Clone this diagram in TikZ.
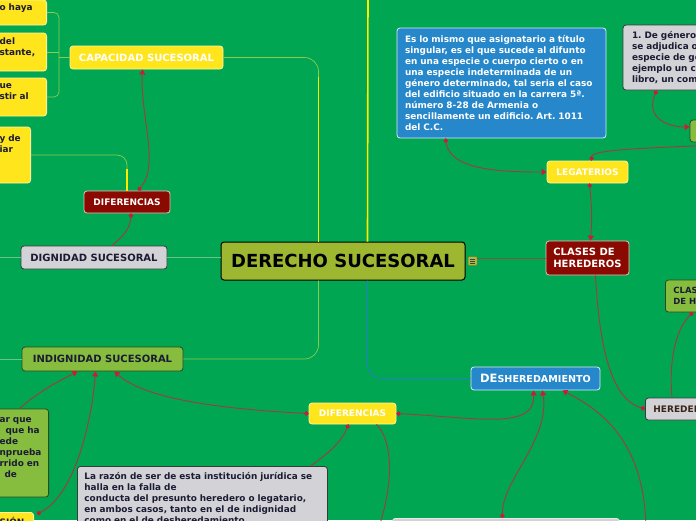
\documentclass[tikz,border=0pt]{standalone}
\usepackage{fontspec}
\setmainfont{DejaVu Sans}
\usetikzlibrary{arrows.meta,positioning,calc}
\definecolor{BgG}{HTML}{00A651}
\definecolor{Yel}{HTML}{FFE51C}
\definecolor{YelB}{HTML}{FFF4A0}
\definecolor{DRed}{HTML}{8A0A02}
\definecolor{DRedB}{HTML}{E6C4BE}
\definecolor{GrayF}{HTML}{D3D3D7}
\definecolor{GrayB}{HTML}{3A3A3A}
\definecolor{GrayL}{HTML}{E8E8EA}
\definecolor{LGrn}{HTML}{86BD3F}
\definecolor{LGrnB}{HTML}{2F4A1E}
\definecolor{BlueF}{HTML}{2687CB}
\definecolor{BlueB}{HTML}{D8ECF8}
\definecolor{Olive}{HTML}{9DB731}
\definecolor{Conn}{HTML}{A33B3C}
\definecolor{Dot}{HTML}{CC1B3A}
\definecolor{TreeL}{HTML}{8CCB4E}
\definecolor{TreeP}{HTML}{6CC38A}
\definecolor{TreeY}{HTML}{FFEB00}
\definecolor{TreeB}{HTML}{2680C8}
\definecolor{Brn}{HTML}{7A5838}
\definecolor{Txt}{HTML}{1B1B33}
\definecolor{HerT}{HTML}{3A2418}
\newcommand{\fsz}[2]{\fontsize{#1}{#2}\selectfont}
\frenchspacing

\begin{document}
\begin{tikzpicture}[x=1pt,y=-1pt,
    box/.style={rounded corners=3pt,line width=0.8pt,inner sep=0pt,align=center,
      font=\bfseries\fsz{10}{12}},
    titlebox/.style={box,fill=Olive,draw=black,line width=1pt,text=black,
      font=\bfseries\fsz{18}{22}},
    yel/.style={box,fill=Yel,draw=YelB,text=white},
    yeld/.style={box,fill=Yel,draw=YelB,text=Txt,align=left,font=\bfseries\fsz{8.9}{11}},
    redbox/.style={box,fill=DRed,draw=DRedB,text=white},
    graybox/.style={box,fill=GrayF,draw=GrayB,text=Txt},
    grnbox/.style={box,fill=LGrn,draw=LGrnB,text=Txt},
    bluebox/.style={box,fill=BlueF,draw=BlueB,text=white},
    noteic/.style={draw=Olive!70!black,fill=Olive!90!white,minimum size=9pt,inner sep=0pt,
      rounded corners=1pt,line width=0.5pt},
    treeL/.style={draw=TreeL,line width=0.7pt},
    treeP/.style={draw=TreeP,line width=0.7pt},
    treeY/.style={draw=TreeY,line width=1.6pt},
    treeB/.style={draw=TreeB,line width=0.8pt},
    treeBr/.style={draw=Brn,line width=0.9pt},
    conn/.style={draw=Conn,line width=0.9pt},
    dotarr/.style={conn,arrows={Circle[length=4.5pt,color=Dot]-Triangle[length=5pt,width=6pt,color=Dot]}},
    dotonly/.style={conn,arrows={Circle[length=4.5pt,color=Dot]-}},
    arronly/.style={conn,arrows={-Triangle[length=5pt,width=6pt,color=Dot]}}]
  \fill[BgG] (0,0) rectangle (696,520);
  \useasboundingbox (0,0) rectangle (696,520);
  \clip (0,0) rectangle (696,520);

  % central topic and main branches
  \node[titlebox,minimum width=244pt,minimum height=38pt] (title) at (343,261) {DERECHO SUCESORAL};
  \node[noteic] (note) at (472.5,261) {};
  \foreach \dy in {-2,0,2}
    \draw[black!75,line width=0.6pt] ($(note.center)+(-2.5,\dy)$) -- ++(5,0);
  \node[yel,minimum width=153pt,minimum height=23pt] (capac) at (146.5,57.5) {CAPACIDAD SUCESORAL};
  \node[redbox,minimum width=86pt,minimum height=22pt,font=\bfseries\fsz{9}{11}] (difA) at (127,202) {DIFERENCIAS};
  \node[graybox,minimum width=146pt,minimum height=23pt] (dign) at (94,257.5) {DIGNIDAD SUCESORAL};
  \node[grnbox,minimum width=161pt,minimum height=24pt] (indign) at (102.5,359) {INDIGNIDAD SUCESORAL};
  \node[yel,minimum width=87pt,minimum height=21pt,font=\bfseries\fsz{9}{11}] (difB) at (352.5,413.5) {DIFERENCIAS};
  \node[bluebox,minimum width=129pt,minimum height=23pt] (desher) at (535.5,378.5)
    {{\fsz{11.5}{12}DE}{\fsz{9.6}{12}SHEREDAMIENTO}};
  \node[redbox,minimum width=83pt,minimum height=34pt,align=left] (clases) at (587.5,258) {CLASES DE\\HEREDEROS};
  \node[yel,minimum width=81pt,minimum height=22pt,font=\bfseries\fsz{9}{11}] (legat) at (587.5,172) {LEGATERIOS};

  % right side
  \node[bluebox,text width=193pt,inner xsep=8pt,minimum height=110pt,align=left,
    font=\bfseries\fsz{8.9}{11}] (legdef) at (501.5,83)
    {Es lo mismo que asignatario a título\\singular, es el que sucede al difunto\\
     en una especie o cuerpo cierto o en\\una especie indeterminada de un\\
     género determinado, tal seria el caso\\del edificio situado en la carrera 5ª.\\
     número 8-28 de Armenia o\\sencillamente un edificio. Art. 1011\\del C.C.};
  \node[graybox,text width=141pt,inner xsep=9pt,minimum height=65pt,align=left,
    font=\bfseries\fsz{8.9}{11}] (gTR) at (702.5,57.5)
    {1. De género,\\se adjudica o\\especie de gé\\ejemplo un c\\libro, un com};
  \node[grnbox,minimum width=70pt,minimum height=22pt] (grTR) at (725,131) {};
  \node[grnbox,anchor=west,text width=80pt,inner xsep=8pt,minimum height=32pt,align=left,
    font=\bfseries\fsz{8.5}{10.7}] (clasH) at (665,296) {CLAS\\DE H};
  \node[graybox,anchor=west,text width=100pt,inner xsep=8pt,minimum height=22pt,align=left,
    text=HerT,font=\bfseries\fsz{9}{11}] (heredG) at (645,409) {HEREDER};

  % left side
  \node[yeld,anchor=east,text width=39pt,inner xsep=8pt,minimum height=25pt] (cap1) at (47,12.5) {o haya\\\mbox{}};
  \node[yeld,anchor=east,text width=39pt,inner xsep=8pt,minimum height=38pt] (cap2) at (47,52) {del\\stante,\\\mbox{}};
  \node[yeld,anchor=east,text width=39pt,inner xsep=8pt,minimum height=38pt] (cap3) at (47,97) {ue\\stir al\\\mbox{}};
  \node[yeld,anchor=east,text width=25pt,inner xsep=6pt,minimum height=56pt] (dif4) at (31,155) {y de\\iar\\\mbox{}\\\mbox{}};
  \node[grnbox,anchor=east,text width=44pt,inner xsep=5pt,minimum height=88pt,align=left,
    font=\bfseries\fsz{8.9}{11}] (lgreen) at (49,453)
    {ar que\\\hspace*{6pt}que ha\\ede\\nprueba\\rrido en\\\hspace*{5pt}de\\\mbox{}};
  \node[yeld,anchor=north east,text width=28pt,inner xsep=6pt,inner ysep=5pt] (blY) at (34,512) {SIÓN};
  \node[graybox,anchor=north west,text width=236pt,inner xsep=7pt,inner ysep=6pt,align=left,
    font=\bfseries\fsz{8.9}{11}] (razon) at (77,466)
    {La razón de ser de esta institución jurídica se\\halla en la falla de\\
     conducta del presunto heredero o legatario,\\en ambos casos, tanto en el de indignidad\\
     como en el de desheredamiento};
  \node[graybox,draw=GrayL,anchor=north west,minimum width=227pt,minimum height=30pt] (bcG) at (392,518) {};

  % tree lines
  \coordinate (tA) at ($(title.north west)+(98,0)$);
  \coordinate (tB) at ($(title.north west)+(147,0)$);
  \coordinate (tC) at ($(title.south west)+(147,0)$);
  \coordinate (tD) at ($(title.south west)+(98,0)$);
  \coordinate (topout) at (368,-10);
  \coordinate (capfork) at (59,57.5);
  \coordinate (dignout) at (-5,257.5);
  \coordinate (indout) at (-5,359);
  \draw[treeL,rounded corners=14pt] (capac.east) -| (tA);
  \draw[treeY] (tA) -- ++(0,-165);
  \draw[treeY] (tB) -- (topout);
  \draw[treeB,rounded corners=14pt] (tC) |- (desher.west);
  \draw[treeB,line width=1.4pt] (tC) -- ++(0,80);
  \draw[treeL,rounded corners=14pt] (tD) |- (indign.east);
  \draw[treeL,line width=1.3pt] (tD) -- ++(0,60);
  \draw[treeP] (dign.east) -- (dign.east -| title.west);
  \draw[treeP] (dign.west) -- (dignout);
  \draw[treeP] (indign.west) -- (indout);
  \draw[treeL,rounded corners=5pt] (cap1.east) -| (capfork) |- (cap3.east);
  \draw[treeL] (cap2.east) -- (cap2.east -| capfork);
  \draw[treeL] (capfork) -- (capac.west);
  \draw[treeL,rounded corners=10pt] (difA.north) |- (dif4.east);
  \draw[treeY] (difA.north) -- ++(0,-22);
  \draw[treeBr] (clases.west) -- (clases.west -| note.east);

  % relation connectors
  \coordinate (difout) at (378,530);
  \coordinate (brout) at (646,530);
  \coordinate (legout) at (720,145);
  \draw[dotarr] ($(difA.north)+(11,0)$) .. controls (160,165) and (140,115) .. ($(capac.south)+(-4,0)$);
  \draw[dotonly] ($(difA.south)+(4,0)$) .. controls (130,232) and (118,240) .. ($(dign.north)+(18,0)$);
  \draw[arronly] ($(lgreen.north)+(-2,0)$) .. controls (40,390) and (65,378) .. ($(indign.south)+(-25,0)$);
  \draw[dotarr] ($(blY.north east)+(3,2)$) .. controls (75,495) and (92,420) .. ($(indign.south)+(-7,0)$);
  \draw[dotarr] (difB.west) .. controls (200,408) and (140,395) .. ($(indign.south)+(12,0)$);
  \draw[dotonly] ($(difB.south)+(-4,0)$) .. controls (340,445) and (325,455) .. ($(razon.north east)+(-17,0)$);
  \draw[conn] ($(difB.south)+(24,0)$) .. controls (392,440) and (395,480) .. (difout);
  \draw[dotarr] (difB.east) .. controls (480,418) and (535,430) .. ($(desher.south)+(-2,0)$);
  \draw[dotarr] ($(bcG.north)+(-3.5,0)$) .. controls (502,480) and (550,440) .. ($(desher.south)+(7,0)$);
  \draw[arronly] (brout) .. controls (645,440) and (600,410) .. ($(desher.south)+(27,0)$);
  \draw[dotarr] ($(legdef.south)+(-56,0)$) .. controls (450,170) and (500,172) .. (legat.west);
  \draw[dotarr] ($(legat.south)+(2,0)$) .. controls (592,210) and (592,220) .. ($(clases.north)+(3,0)$);
  \draw[dotonly] ($(legat.north)+(4,0)$) .. controls (592,150) and (640,148) .. (legout);
  \draw[dotarr] ($(gTR.south west)+(34,0)$) .. controls (645,118) and (668,127) .. ($(grTR.west)+(0,-4)$);
  \draw[dotonly] (heredG.west) .. controls (615,400) and (600,360) .. ($(clases.south)+(8,0)$);
  \draw[dotonly] ($(clasH.south west)+(28,0)$) .. controls (680,325) and (668,350) .. ($(heredG.north west)+(27,0)$);
\end{tikzpicture}
\end{document}
